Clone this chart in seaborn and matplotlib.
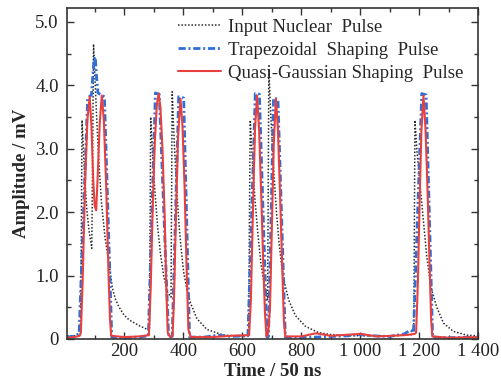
import numpy as np
import pandas as pd
import matplotlib
matplotlib.use("Agg")
import matplotlib.pyplot as plt
import seaborn as sns
from matplotlib.ticker import MultipleLocator

# legend labels
series_labels = ["Input Nuclear  Pulse", "Trapezoidal  Shaping  Pulse", "Quasi-Gaussian Shaping  Pulse"]

# input nuclear pulse
input_time = [5, 30, 50, 53, 56, 60, 66, 72, 80, 89, 92, 95, 100, 106, 113, 122, 134, 148, 159, 170,
              182, 198, 216, 250, 278, 285, 287, 289, 295, 303, 312, 322, 333, 345, 358, 360, 362, 368,
              376, 386, 394, 401, 412, 424, 446, 480, 537, 580, 622, 624, 627, 634, 643, 653, 663, 674,
              686, 688, 690, 697, 706, 716, 725, 734, 745, 757, 780, 814, 859, 900, 1000, 1100, 1182,
              1184, 1186, 1193, 1201, 1209, 1218, 1226, 1235, 1243, 1260, 1283, 1316, 1362, 1400]
input_amp = [0.05, 0.05, 0.06, 1.2, 3.45, 3.05, 2.5, 2.05, 1.7, 1.43, 2.9, 4.65, 4.1, 3.45, 2.8, 2.15, 1.6,
             1.18, 0.8, 0.62, 0.5, 0.38, 0.3, 0.21, 0.15, 0.14, 1.8, 3.5, 2.95, 2.35, 1.8, 1.35, 1.0,
             0.75, 0.66, 2.3, 3.9, 3.2, 2.45, 1.75, 1.35, 1.05, 0.78, 0.57, 0.32, 0.15, 0.06, 0.05, 0.05,
             1.8, 3.45, 2.85, 2.2, 1.65, 1.2, 0.87, 0.62, 2.4, 4.25, 3.5, 2.7, 2.0, 1.5, 1.14, 0.85, 0.62,
             0.37, 0.2, 0.1, 0.07, 0.05, 0.05, 0.07, 1.8, 3.45, 2.95, 2.55, 2.15, 1.7, 1.3, 1.0, 0.77,
             0.5, 0.25, 0.12, 0.06, 0.05]

# trapezoidal shaping output
trap_time = [5, 25, 40, 46, 75, 88, 91, 97, 101, 105, 110, 132, 157, 200, 250, 281, 305, 318, 350, 362,
             384, 401, 421, 470, 520, 560, 619, 644, 658, 684, 689, 706, 721, 746, 800, 900, 960, 1000,
             1040, 1100, 1150, 1170, 1178, 1181, 1209, 1224, 1246, 1300, 1400]
trap_amp = [0.03, 0.04, 0.07, 0.08, 3.8, 3.85, 4.05, 4.42, 4.45, 4.15, 3.88, 3.82, 0.03, 0.02, 0.03,
            0.05, 3.88, 3.86, 0.03, 0.04, 3.82, 3.8, 0.03, 0.03, 0.06, 0.04, 0.05, 3.87, 3.86, 0.03,
            0.04, 3.8, 3.78, 0.03, 0.02, 0.04, 0.05, 0.07, 0.05, 0.04, 0.08, 0.14, 0.12, 0.1, 3.87,
            3.85, 0.03, 0.02, 0.03]

# quasi-gaussian shaping output
gauss_time = [5, 30, 48, 52, 58, 66, 74, 82, 88, 94, 99, 104, 109, 116, 123, 130, 138, 146, 151, 155,
              200, 250, 283, 289, 296, 303, 310, 316, 322, 329, 336, 342, 347, 355, 363, 368, 375, 382,
              390, 397, 404, 411, 417, 425, 500, 560, 623, 629, 636, 643, 650, 657, 664, 671, 677, 682,
              688, 694, 700, 707, 714, 721, 728, 735, 741, 746, 800, 850, 900, 1000, 1060, 1150, 1185,
              1190, 1196, 1202, 1208, 1215, 1222, 1229, 1236, 1241, 1245, 1300, 1400]
gauss_amp = [0.02, 0.03, 0.05, 0.1, 0.9, 2.4, 3.45, 3.82, 3.35, 2.5, 2.1, 2.03, 2.55, 3.4, 3.84, 3.45,
             2.4, 1.0, 0.3, 0.05, 0.03, 0.04, 0.06, 0.8, 2.1, 3.1, 3.7, 3.87, 3.65, 3.0, 2.0, 0.8, 0.1,
             0.03, 0.05, 0.6, 2.0, 3.2, 3.79, 3.35, 2.4, 1.1, 0.15, 0.03, 0.03, 0.05, 0.06, 0.6, 2.0,
             3.3, 3.84, 3.3, 2.3, 1.2, 0.4, 0.04, 0.1, 0.5, 1.7, 3.1, 3.79, 3.3, 2.3, 1.2, 0.3, 0.04,
             0.04, 0.09, 0.05, 0.08, 0.04, 0.06, 0.08, 0.1, 0.9, 2.2, 3.3, 3.84, 3.3, 2.3, 1.1, 0.3,
             0.04, 0.02, 0.03]

x_ticks = [200, 400, 600, 800, 1000, 1200, 1400]
x_tick_labels = ["200", "400", "600", "800", "1 000", "1 200", "1 400"]
y_ticks = [0, 1, 2, 3, 4, 5]
y_tick_labels = ["0", "1.0", "2.0", "3.0", "4.0", "5.0"]

sns.set_style("ticks")
plt.rcParams["font.family"] = ["Liberation Serif", "DejaVu Serif"]
plt.rcParams["axes.edgecolor"] = "#333333"

fig = plt.figure(figsize=(5.02, 3.82), dpi=100)
ax = fig.add_axes([0.1335, 0.1126, 0.8187, 0.8665])

sns.lineplot(x=input_time, y=input_amp, ax=ax, estimator=None, color="#2b2b2b",
             linestyle=(0, (1, 1.2)), linewidth=1.1, label=series_labels[0])
sns.lineplot(x=trap_time, y=trap_amp, ax=ax, estimator=None, color="#2f6fd6",
             linestyle=(0, (2.6, 1.0, 0.7, 1.0)), linewidth=2.0, label=series_labels[1])
sns.lineplot(x=gauss_time, y=gauss_amp, ax=ax, estimator=None, color="#e8403e",
             linestyle="-", linewidth=1.5, label=series_labels[2])

ax.set_xlim(5, 1400)
ax.set_ylim(0, 5.22)
ax.set_xticks(x_ticks)
ax.set_xticklabels(x_tick_labels)
ax.set_yticks(y_ticks)
ax.set_yticklabels(y_tick_labels)
ax.xaxis.set_minor_locator(MultipleLocator(100))
ax.yaxis.set_minor_locator(MultipleLocator(0.5))
ax.tick_params(which="both", direction="in", top=True, right=True, width=1.0, colors="#333333",
               labelcolor="#222222", labelsize=13.5)
ax.tick_params(which="major", length=5)
ax.tick_params(which="minor", length=3)
ax.tick_params(axis="y", pad=6)
ax.tick_params(axis="x", pad=3)
for s in ax.spines.values():
    s.set_linewidth(1.2)

ax.set_xlabel("Time / 50 ns", fontsize=13.5, fontweight="bold", labelpad=2)
ax.set_ylabel("Amplitude / mV", fontsize=13.5, fontweight="bold", labelpad=4)

ax.legend(loc="upper left", bbox_to_anchor=(0.27, 0.968), frameon=False, fontsize=13.5,
          handlelength=2.3, handletextpad=0.35, labelspacing=0.31, borderpad=0, borderaxespad=0)

fig.savefig("out.png", dpi=100)
